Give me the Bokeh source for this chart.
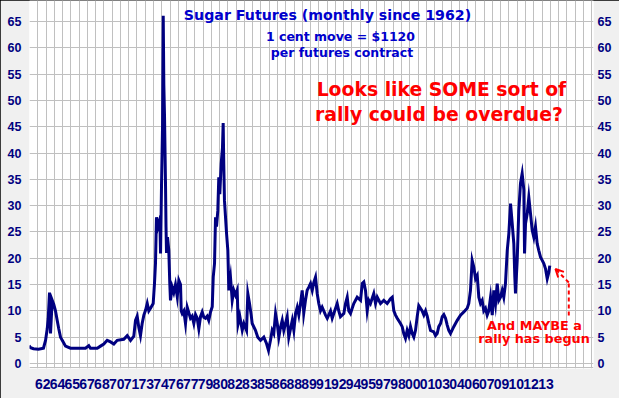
from bokeh.plotting import figure
from bokeh.models import Range1d, FixedTicker, LinearAxis, Label, Arrow, OpenHead
from bokeh.embed import file_html
from bokeh.resources import INLINE

# Sugar futures, cents per lb, decimal years
years = [1961.37, 1961.52, 1961.82, 1962.32, 1962.82, 1963.03, 1963.20, 1963.30, 1963.43, 1963.53,
         1963.70, 1963.86, 1964.03, 1964.20, 1964.36, 1964.54, 1964.71, 1965.04, 1965.54, 1966.22,
         1967.05, 1967.38, 1967.55, 1968.23, 1968.56, 1968.89, 1969.23, 1969.57, 1969.90, 1970.24,
         1970.90, 1971.25, 1971.58, 1971.91, 1972.08, 1972.25, 1972.41, 1972.58, 1972.75, 1972.92,
         1973.09, 1973.26, 1973.42, 1973.59, 1973.86, 1973.99, 1974.09, 1974.19, 1974.34, 1974.53,
         1974.60, 1974.70, 1974.80, 1974.87, 1974.93, 1975.00, 1975.10, 1975.15, 1975.20, 1975.30,
         1975.43, 1975.53, 1975.60, 1975.77, 1975.93, 1976.10, 1976.28, 1976.44, 1976.61, 1976.68,
         1976.78, 1976.94, 1977.11, 1977.28, 1977.61, 1977.78, 1977.95, 1978.12, 1978.29, 1978.45,
         1978.62, 1978.79, 1978.95, 1979.12, 1979.29, 1979.45, 1979.63, 1979.80, 1979.90, 1980.03,
         1980.13, 1980.23, 1980.36, 1980.46, 1980.56, 1980.70, 1980.83, 1980.90, 1980.96, 1981.03,
         1981.24, 1981.37, 1981.47, 1981.64, 1981.81, 1981.97, 1982.14, 1982.31, 1982.41, 1982.57,
         1982.82, 1982.98, 1983.25, 1983.38, 1983.55, 1983.72, 1983.82, 1984.15, 1984.38, 1984.66,
         1984.99, 1985.26, 1985.46, 1985.66, 1985.83, 1985.99, 1986.17, 1986.34, 1986.50, 1986.67,
         1986.84, 1987.00, 1987.34, 1987.50, 1987.85, 1988.01, 1988.18, 1988.35, 1988.51, 1988.68,
         1988.85, 1989.01, 1989.18, 1989.35, 1989.52, 1989.69, 1989.86, 1990.02, 1990.19, 1990.36,
         1990.52, 1990.69, 1990.86, 1991.20, 1991.37, 1991.70, 1991.87, 1992.03, 1992.37, 1992.53,
         1992.70, 1993.04, 1993.21, 1993.38, 1993.54, 1993.71, 1993.88, 1994.04, 1994.38, 1994.72,
         1994.89, 1995.05, 1995.22, 1995.39, 1995.55, 1995.72, 1996.05, 1996.23, 1996.40, 1996.73,
         1997.06, 1997.40, 1997.73, 1997.91, 1998.07, 1998.24, 1998.41, 1998.74, 1998.91, 1999.07,
         1999.24, 1999.41, 1999.58, 1999.75, 1999.92, 2000.08, 2000.25, 2000.42, 2000.58, 2000.75,
         2000.92, 2001.09, 2001.26, 2001.43, 2001.59, 2001.76, 2002.09, 2002.26, 2002.43, 2002.59,
         2002.77, 2002.94, 2003.10, 2003.27, 2003.44, 2003.60, 2003.77, 2004.10, 2004.45, 2004.78,
         2005.11, 2005.45, 2005.61, 2005.78, 2005.95, 2006.12, 2006.29, 2006.46, 2006.62, 2006.79,
         2006.96, 2007.12, 2007.29, 2007.46, 2007.62, 2007.80, 2007.97, 2008.13, 2008.30, 2008.47,
         2008.63, 2008.80, 2008.97, 2009.13, 2009.30, 2009.48, 2009.64, 2009.81, 2009.98, 2010.14,
         2010.24, 2010.31, 2010.48, 2010.64, 2010.81, 2010.98, 2011.15, 2011.22, 2011.32, 2011.49,
         2011.65, 2011.82, 2011.99, 2012.15, 2012.32, 2012.49, 2012.65, 2012.83, 2013.00, 2013.16,
         2013.33, 2013.50, 2013.66, 2013.76]
prices = [3.4, 3.0, 2.8, 2.7, 2.9, 4.4, 6.6, 8.6, 13.5, 5.7,
          12.0, 11.2, 10.0, 8.2, 6.6, 5.0, 4.4, 3.3, 2.9, 2.9,
          2.9, 3.4, 2.9, 2.9, 3.3, 3.7, 4.4, 4.1, 3.7, 4.4,
          4.6, 5.3, 4.4, 5.2, 8.2, 9.0, 6.9, 5.3, 7.6, 9.2,
          10.1, 11.4, 10.0, 10.5, 11.4, 15.2, 19.0, 27.8, 26.0, 27.4,
          20.9, 34.2, 45.0, 66.1, 53.0, 47.0, 34.0, 26.0, 21.0, 24.0,
          21.5, 15.2, 12.0, 14.5, 13.5, 15.0, 12.7, 15.8, 15.0, 10.0,
          9.5, 10.0, 7.6, 10.7, 8.6, 9.0, 7.6, 9.3, 8.6, 6.6,
          8.9, 9.8, 8.8, 8.6, 9.0, 8.2, 9.8, 10.8, 16.4, 19.0,
          27.8, 26.0, 29.0, 35.4, 32.2, 38.0, 41.0, 45.7, 38.0, 31.0,
          24.7, 21.5, 13.9, 16.3, 12.0, 13.9, 13.0, 13.9, 7.6, 9.0,
          6.3, 7.6, 6.3, 13.3, 11.4, 9.2, 7.6, 6.3, 5.0, 4.4,
          5.0, 3.8, 2.5, 4.4, 6.3, 5.7, 9.5, 7.6, 5.0, 6.9,
          8.2, 6.3, 8.9, 5.0, 8.2, 6.3, 9.5, 10.7, 9.2, 11.4,
          13.9, 9.6, 12.0, 13.9, 14.5, 15.2, 13.9, 15.4, 16.4, 13.3,
          11.4, 10.0, 10.7, 9.2, 8.6, 10.0, 8.6, 9.5, 11.4, 10.0,
          8.9, 9.5, 11.4, 12.6, 10.0, 9.5, 10.5, 11.4, 12.6, 12.0,
          15.2, 15.5, 13.9, 10.0, 12.0, 11.4, 13.3, 11.4, 12.6, 11.4,
          12.0, 11.4, 12.3, 12.6, 10.0, 9.2, 8.6, 7.6, 7.0, 5.7,
          4.8, 6.3, 5.3, 7.0, 5.7, 5.0, 6.3, 8.9, 11.0, 10.5,
          10.0, 9.2, 10.0, 9.0, 7.6, 6.3, 6.0, 5.3, 5.7, 7.0,
          7.6, 8.9, 9.3, 8.6, 7.3, 6.3, 5.7, 7.0, 8.2, 9.2,
          9.8, 10.5, 11.4, 13.9, 19.6, 18.3, 16.1, 16.7, 12.6, 11.4,
          12.0, 10.0, 10.5, 9.2, 10.0, 12.6, 9.2, 13.9, 11.4, 15.2,
          12.0, 12.6, 13.9, 12.6, 15.2, 21.5, 24.7, 30.4, 26.6, 22.8,
          16.5, 13.3, 19.6, 29.0, 34.2, 36.1, 33.0, 20.9, 26.6, 28.5,
          31.6, 28.5, 25.3, 24.0, 26.0, 22.8, 21.5, 20.2, 19.6, 19.0,
          18.0, 16.1, 17.3, 18.6]

x_tick_labels = ["62", "64", "65", "67", "68", "70", "71", "73", "74", "76", "77", "79",
                 "80", "82", "83", "85", "86", "88", "89", "91", "92", "94", "95", "97",
                 "98", "00", "01", "03", "04", "06", "07", "09", "10", "12", "13"]
y_ticks = [0, 5, 10, 15, 20, 25, 30, 35, 40, 45, 50, 55, 60, 65]

NAVY = "#000080"
BLUE = "#0000CC"
RED = "#FF0000"

W, H = 619, 398
p = figure(width=W, height=H, output_backend="svg", toolbar_location=None,
           x_range=Range1d(1961.416, 2018.157), y_range=Range1d(-0.95, 68.985),
           min_border_left=29, min_border_right=26, min_border_top=0, min_border_bottom=30,
           background_fill_color="white", border_fill_color="#f0f0f0",
           outline_line_color=None)
p.styles = {"outline": "1px solid black", "outline-offset": "-1px"}

p.line(years, prices, line_color=NAVY, line_width=3, line_join="miter")

# grids
x_tick_pos = [round(1962.744 + 1.489 * i, 3) for i in range(len(x_tick_labels))]
p.xgrid.ticker = FixedTicker(ticks=[round(1961.416 + 0.8317 * i, 4) for i in range(69)])
p.ygrid.ticker = FixedTicker(ticks=y_ticks + [-0.85])
for g in (p.xgrid[0], p.ygrid[0]):
    g.grid_line_color = "#c0c0c0"
    g.grid_line_width = 1

def style_axis(ax, size, font, standoff):
    ax.axis_line_color = None
    ax.major_tick_line_color = None
    ax.minor_tick_line_color = None
    ax.major_tick_out = 0
    ax.major_tick_in = 0
    ax.minor_tick_out = 0
    ax.minor_tick_in = 0
    ax.major_label_text_color = NAVY
    ax.major_label_text_font = font
    ax.major_label_text_font_style = "bold"
    ax.major_label_text_font_size = size
    ax.major_label_standoff = standoff

# left axis
p.yaxis.ticker = FixedTicker(ticks=y_ticks)
style_axis(p.yaxis[0], "12.5px", "Liberation Sans", 8)
# right axis
ra = LinearAxis(ticker=FixedTicker(ticks=y_ticks))
style_axis(ra, "12.5px", "Liberation Sans", 4)
p.add_layout(ra, "right")
# bottom axis
p.xaxis.ticker = FixedTicker(ticks=x_tick_pos)
p.xaxis.major_label_overrides = {t: l for t, l in zip(x_tick_pos, x_tick_labels)}
style_axis(p.xaxis[0], "14px", "Liberation Sans", 10)

TF = "DejaVu Sans"
def lab(x, y, text, color, size, align="center"):
    p.add_layout(Label(x=x, y=y, text=text, text_color=color, text_font=TF,
                       text_font_style="bold", text_font_size=size,
                       text_align=align, text_baseline="alphabetic"))

lab(1991.40, 66.27, "Sugar Futures (monthly since 1962)", BLUE, "14.2px")
lab(1992.70, 62.15, "1 cent move = $1120", BLUE, "12.5px")
lab(1992.85, 59.10, "per futures contract", BLUE, "12.5px")
lab(2002.86, 52.07, "Looks like SOME sort of", RED, "18.8px")
lab(2002.61, 47.32, "rally could be overdue?", RED, "18.8px")
lab(2012.22, 7.22, "And MAYBE a", RED, "12.8px")
lab(2012.17, 4.66, "rally has begun", RED, "12.8px")

p.add_layout(Arrow(end=None, x_start=2015.67, y_start=9.12, x_end=2015.67, y_end=15.39,
                   line_color=RED, line_width=2, line_dash="4 3"))
p.add_layout(Arrow(end=OpenHead(size=8, line_color=RED, line_width=2),
                   x_start=2015.67, y_start=15.39, x_end=2014.33, y_end=17.96,
                   line_color=RED, line_width=2, line_dash="4 3"))

open("out.html", "w").write(file_html(p, INLINE))
